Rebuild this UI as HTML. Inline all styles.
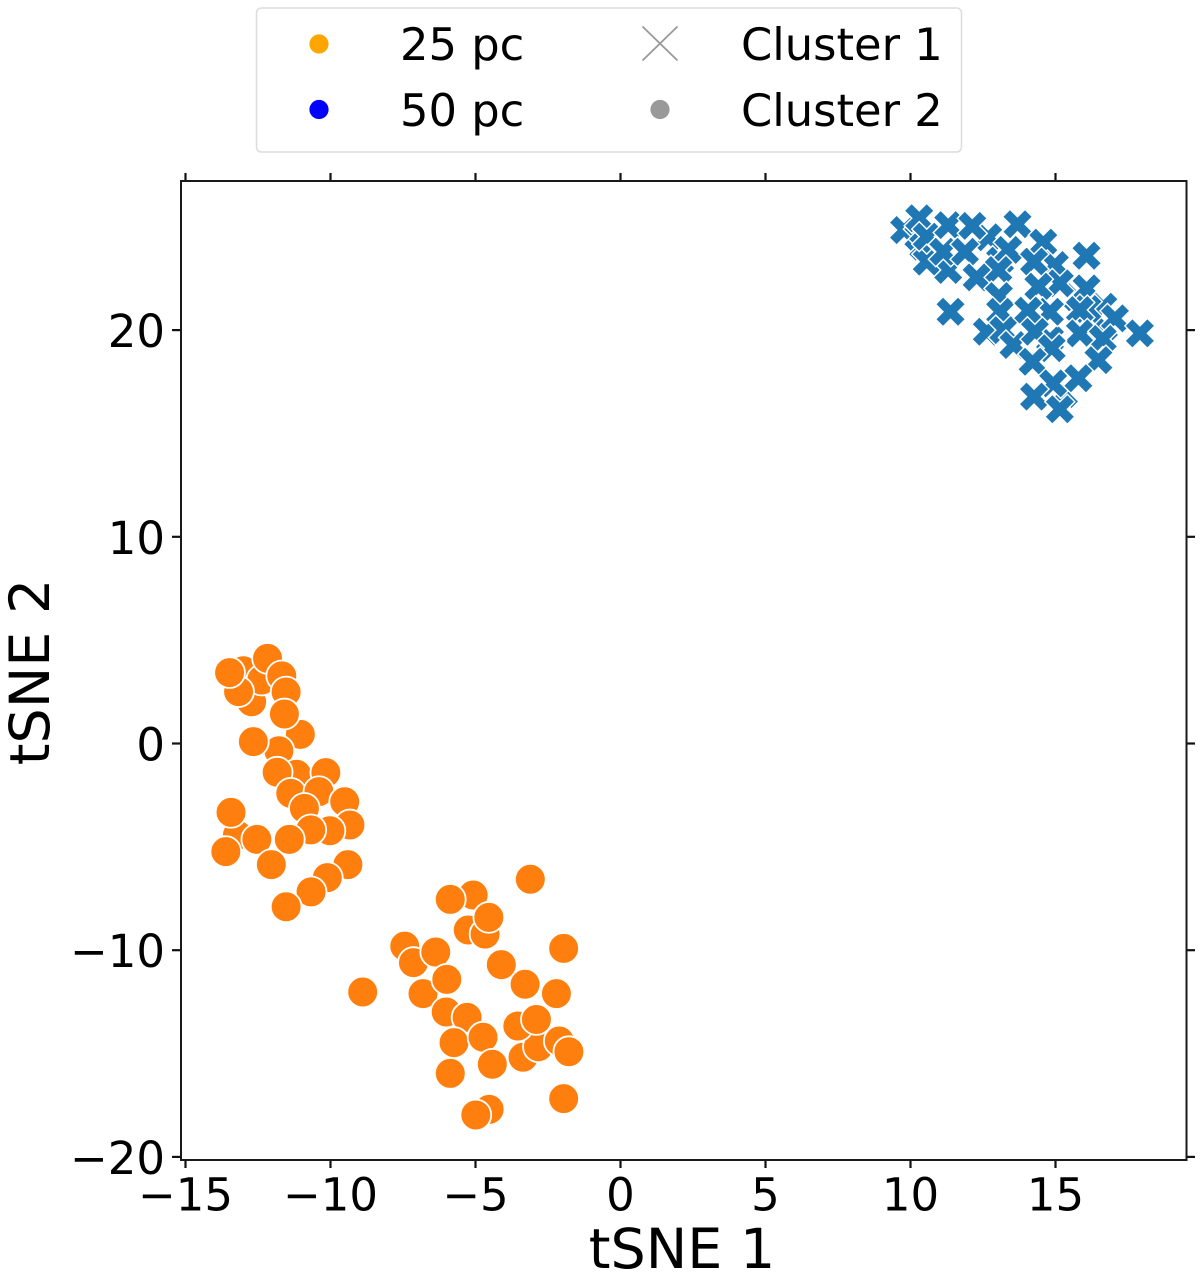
<!DOCTYPE html>
<html lang="en">
<head>
<meta charset="utf-8">
<title>tSNE scatter</title>
<style>
html,body{margin:0;padding:0;background:#fff;width:1200px;height:1279px;overflow:hidden}
svg{display:block}
text{font-family:"DejaVu Sans","Liberation Sans",sans-serif;fill:#000}
</style>
</head>
<body>
<svg id="chart" xmlns="http://www.w3.org/2000/svg" width="1200" height="1279" viewBox="0 0 1200 1279">
  <rect x="181" y="181" width="1005.5" height="979" fill="#fff"/>
  <g id="marks"></g>
  <g id="axes"></g>
  <rect x="181" y="181" width="1005.5" height="979" fill="none" stroke="#1a1a1a" stroke-width="2"/>
  <text x="682" y="1268" font-size="55.5" text-anchor="middle">tSNE 1</text>
  <text transform="translate(49 672) rotate(-90)" font-size="55.5" text-anchor="middle">tSNE 2</text>
  <g>
    <rect x="256.5" y="8" width="705" height="144" rx="5" fill="#fff" stroke="#dcdcdc" stroke-width="1.5"/>
    <circle cx="319" cy="44" r="9.6" fill="#ffa500"/>
    <text x="400" y="60" font-size="44.8">25 pc</text>
    <circle cx="319" cy="109.500" r="9.6" fill="#0000ff"/>
    <text x="400" y="126" font-size="44.8">50 pc</text>
    <path d="M642.500 26.500L677.500 60.500M677.500 26.500L642.500 60.500" stroke="#999" stroke-width="1.800" fill="none"/>
    <circle cx="660" cy="109.500" r="9.600" fill="#999"/>
    <text x="741" y="60" font-size="44.8">Cluster 1</text>
    <text x="741" y="126" font-size="44.8">Cluster 2</text>
  </g>
</svg>
<script>
const xTicks = [-15, -10, -5, 0, 5, 10, 15];
const yTicks = [-20, -10, 0, 10, 20];

const cluster2X = [
  -13.01,-12.72,-12.37,-12.17,-11.68,-13.17,-13.48,-11.53,-11.04,-11.59,-11.78,-12.66,-11.17,-11.84,-10.16,-11.37,-10.40,-9.51,-10.90,-9.33,-10.02,-10.68,-13.21,-13.43,-12.54,-13.61,-11.42,-12.04,-9.40,-10.11,-10.67,-11.53,
  -5.08,-5.87,-3.11,-5.25,-4.67,-4.54,-1.96,-7.44,-7.14,-6.37,-4.11,-6.81,-5.99,-8.89,-3.29,-2.21,-6.01,-5.29,-5.74,-4.74,-3.36,-2.83,-2.11,-1.78,-3.54,-2.90,-4.42,-5.87,-1.96,-4.53,-4.99
];
const cluster2Y = [
  3.52,2.02,3.07,4.12,3.27,2.51,3.43,2.49,0.44,1.43,-0.35,0.09,-1.49,-1.39,-1.41,-2.41,-2.33,-2.82,-3.14,-3.94,-4.22,-4.18,-4.43,-3.33,-4.64,-5.23,-4.64,-5.86,-5.86,-6.49,-7.18,-7.90,
  -7.33,-7.54,-6.57,-9.02,-9.22,-8.41,-9.91,-9.80,-10.60,-10.09,-10.70,-12.10,-11.41,-12.02,-11.65,-12.10,-12.99,-13.25,-14.47,-14.21,-15.18,-14.67,-14.39,-14.91,-13.67,-13.35,-15.52,-15.96,-17.18,-17.70,-17.97
];

const cluster1X = [
  9.78,10.27,10.44,10.30,10.56,10.56,11.30,11.30,12.68,11.13,11.88,12.13,13.69,14.58,13.09,13.37,14.98,14.26,16.07,13.03,
  12.28,15.73,15.15,14.41,16.07,13.05,11.38,13.09,12.63,13.20,13.55,16.67,16.65,14.81,14.81,14.06,16.10,15.84,17.05,17.91,
  14.29,15.84,16.63,14.87,14.21,16.48,15.29,14.92,15.79,14.26,15.15
];
const cluster1Y = [
  24.84,24.52,24.04,25.41,23.31,24.52,25.08,22.91,24.49,23.79,23.79,25.04,25.12,24.23,23.36,23.88,23.15,23.31,23.60,22.91,
  22.55,21.59,22.26,22.10,22.02,21.65,20.89,20.89,19.92,20.00,19.28,20.13,21.13,19.55,20.89,20.94,21.02,20.97,20.57,19.84,
  19.92,19.84,19.57,19.12,18.47,18.55,16.91,17.42,17.67,16.78,16.17
];

const SVG_NS = 'http://www.w3.org/2000/svg';
function xScale(v) { return 620.5 + 29 * v; }
function yScale(v) { return 743.5 - 20.67 * v; }
function fmt(v) { return String(v).replace('-', '\u2212'); }

const axes = document.getElementById('axes');
const marks = document.getElementById('marks');

function tickLine(x1, y1, x2, y2) {
  const l = document.createElementNS(SVG_NS, 'line');
  l.setAttribute('x1', x1);
  l.setAttribute('y1', y1);
  l.setAttribute('x2', x2);
  l.setAttribute('y2', y2);
  l.setAttribute('stroke', '#111');
  l.setAttribute('stroke-width', '2.2');
  
  
  axes.appendChild(l);
}

xTicks.forEach(function (v) {
  const x = xScale(v);
  tickLine(x, 1160, x, 1168);
  tickLine(x, 173, x, 181);
  const t = document.createElementNS(SVG_NS, 'text');
  t.setAttribute('x', x);
  t.setAttribute('y', 1210.5);
  t.setAttribute('font-size', '45');
  t.setAttribute('text-anchor', 'middle');
  
  
  t.textContent = fmt(v);
  axes.appendChild(t);
});

yTicks.forEach(function (v) {
  const y = yScale(v);
  tickLine(172, y, 181, y);
  tickLine(1186.5, y, 1195, y);
  const t = document.createElementNS(SVG_NS, 'text');
  t.setAttribute('x', 165);
  t.setAttribute('y', y + 17);
  t.setAttribute('font-size', '45');
  t.setAttribute('text-anchor', 'end');
  
  
  t.textContent = fmt(v);
  axes.appendChild(t);
});

cluster2X.forEach(function (v, i) {
  const c = document.createElementNS(SVG_NS, 'circle');
  c.setAttribute('cx', xScale(v));
  c.setAttribute('cy', yScale(cluster2Y[i]));
  c.setAttribute('r', '15.4');
  c.setAttribute('fill', '#ff7f0e');
  c.setAttribute('stroke', '#fff');
  c.setAttribute('stroke-width', '1.8');
  
  
  marks.appendChild(c);
});

const u = 7.5;
const xShape = [[-1,-2],[0,-1],[1,-2],[2,-1],[1,0],[2,1],[1,2],[0,1],[-1,2],[-2,1],[-1,0],[-2,-1]];
cluster1X.forEach(function (v, i) {
  const cx = xScale(v);
  const cy = yScale(cluster1Y[i]);
  const p = document.createElementNS(SVG_NS, 'polygon');
  p.setAttribute('points', xShape.map(function (q) {
    return (cx + q[0] * u).toFixed(2) + ',' + (cy + q[1] * u).toFixed(2);
  }).join(' '));
  p.setAttribute('fill', '#1f77b4');
  p.setAttribute('stroke', '#fff');
  p.setAttribute('stroke-width', '1.4');
  
  
  marks.appendChild(p);
});
</script>
</body>
</html>
